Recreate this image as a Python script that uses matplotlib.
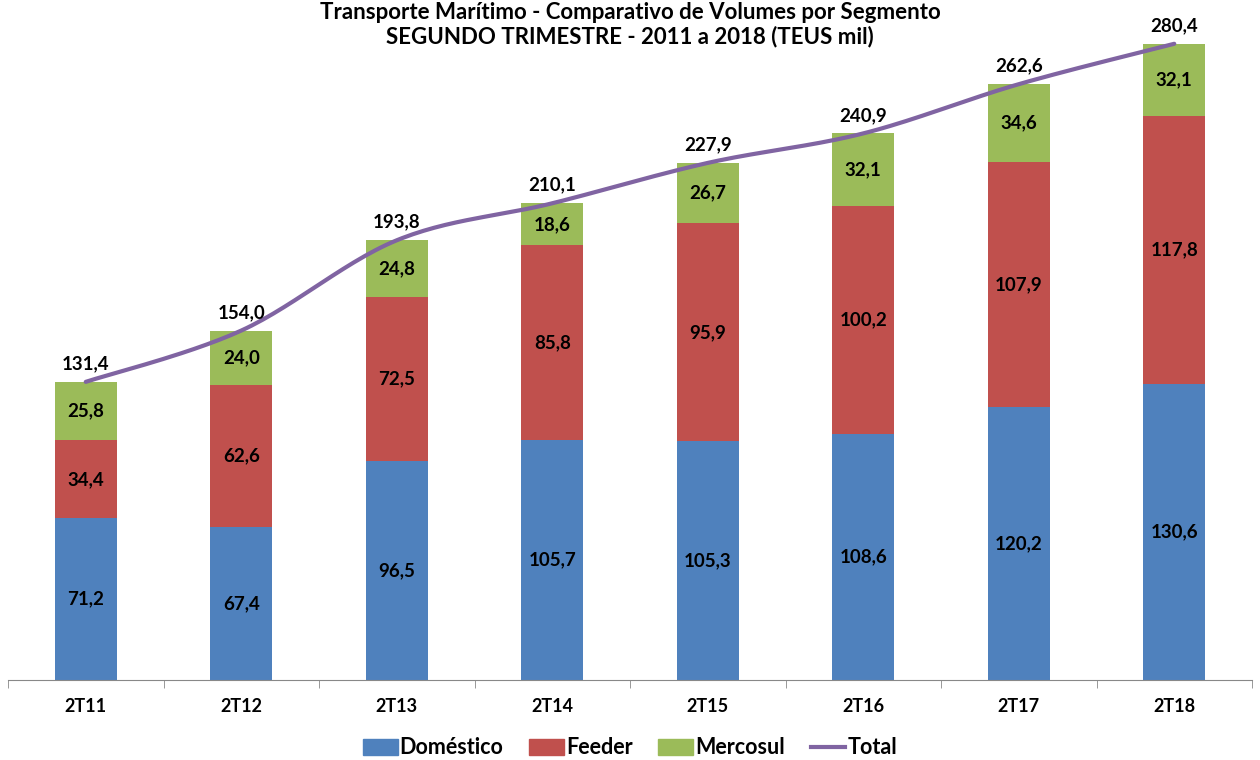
import numpy as np
import matplotlib
matplotlib.use('Agg')
import matplotlib.pyplot as plt
from matplotlib.patches import Patch
from matplotlib.lines import Line2D

plt.rcParams['font.family'] = ['Lato', 'DejaVu Sans']

# ── data ────────────────────────────────────────────────────────────────
categories = ['2T11', '2T12', '2T13', '2T14', '2T15', '2T16', '2T17', '2T18']
domestico  = [71.2, 67.4, 96.5, 105.7, 105.3, 108.6, 120.2, 130.6]
feeder     = [34.4, 62.6, 72.5, 85.8, 95.9, 100.2, 107.9, 117.8]
mercosul   = [25.8, 24.0, 24.8, 18.6, 26.7, 32.1, 34.6, 32.1]
total      = [131.4, 154.0, 193.8, 210.1, 227.9, 240.9, 262.6, 280.4]

C_DOM = '#4F81BD'
C_FEE = '#C0504D'
C_MER = '#9BBB59'
C_TOT = '#8064A2'


def fmt(v):
    return f'{v:.1f}'.replace('.', ',')


def smooth(xs, ys, n=30):
    # Catmull-Rom style smoothing, like the spreadsheet's smoothed line
    xs = np.asarray(xs, float); ys = np.asarray(ys, float)
    px = np.concatenate([[xs[0]], xs, [xs[-1]]])
    py = np.concatenate([[ys[0]], ys, [ys[-1]]])
    ox, oy = [], []
    t = np.linspace(0, 1, n)
    for i in range(1, len(px) - 2):
        p0, p1, p2, p3 = [np.array([px[j], py[j]]) for j in range(i - 1, i + 3)]
        c1 = p1 + (p2 - p0) / 6
        c2 = p2 - (p3 - p1) / 6
        b = ((1 - t)[:, None] ** 3 * p1 + 3 * ((1 - t) ** 2 * t)[:, None] * c1
             + 3 * ((1 - t) * t ** 2)[:, None] * c2 + (t ** 3)[:, None] * p2)
        ox.extend(b[:, 0]); oy.extend(b[:, 1])
    return ox, oy


fig = plt.figure(figsize=(12.6, 7.6), dpi=100, facecolor='white')
ax = fig.add_axes([8 / 1260, 80 / 760, 1244 / 1260, 658 / 760])

x = np.arange(len(categories))
w = 0.4
dom = np.array(domestico); fee = np.array(feeder); mer = np.array(mercosul)
ax.bar(x, dom, w, color=C_DOM, zorder=2)
ax.bar(x, fee, w, bottom=dom, color=C_FEE, zorder=2)
ax.bar(x, mer, w, bottom=dom + fee, color=C_MER, zorder=2)

sx, sy = smooth(x, total)
ax.plot(sx, sy, color=C_TOT, lw=3, zorder=3, solid_capstyle='round')

lab = dict(ha='center', va='center', fontsize=13.5, fontweight='bold', color='black', zorder=4)
for i in range(len(categories)):
    ax.text(x[i], dom[i] / 2, fmt(dom[i]), **lab)
    ax.text(x[i], dom[i] + fee[i] / 2, fmt(fee[i]), **lab)
    ax.text(x[i], dom[i] + fee[i] + mer[i] / 2, fmt(mer[i]), **lab)
    ax.text(x[i], total[i] + 8, fmt(total[i]), clip_on=False, **lab)

ax.set_xlim(-0.5, len(categories) - 0.5)
ax.set_ylim(0, 290)
ax.set_yticks([])
for s in ['left', 'right', 'top']:
    ax.spines[s].set_visible(False)
ax.spines['bottom'].set_color('#888888')
ax.set_xticks(x)
ax.set_xticklabels(categories, fontsize=13, fontweight='bold')
ax.tick_params(axis='x', length=0, pad=13)
ax.set_xticks(np.arange(-0.5, len(categories)), minor=True)
ax.tick_params(axis='x', which='minor', length=6, color='#888888')

fig.text(0.5, 0.997, 'Transporte Marítimo - Comparativo de Volumes por Segmento\n'
         'SEGUNDO TRIMESTRE - 2011 a 2018 (TEUS mil)',
         ha='center', va='top', fontsize=16, fontweight='bold', linespacing=1.15)

handles = [Patch(color=C_DOM), Patch(color=C_FEE), Patch(color=C_MER),
           Line2D([], [], color=C_TOT, lw=3)]
fig.legend(handles, ['Doméstico', 'Feeder', 'Mercosul', 'Total'],
           loc='center', bbox_to_anchor=(0.5, 12 / 760), ncol=4, frameon=False,
           prop={'size': 15.5, 'weight': 'bold'}, handlelength=1.6, handleheight=0.7,
           handletextpad=0.1, columnspacing=1.2)

fig.savefig('out.png', dpi=100, facecolor='white')
